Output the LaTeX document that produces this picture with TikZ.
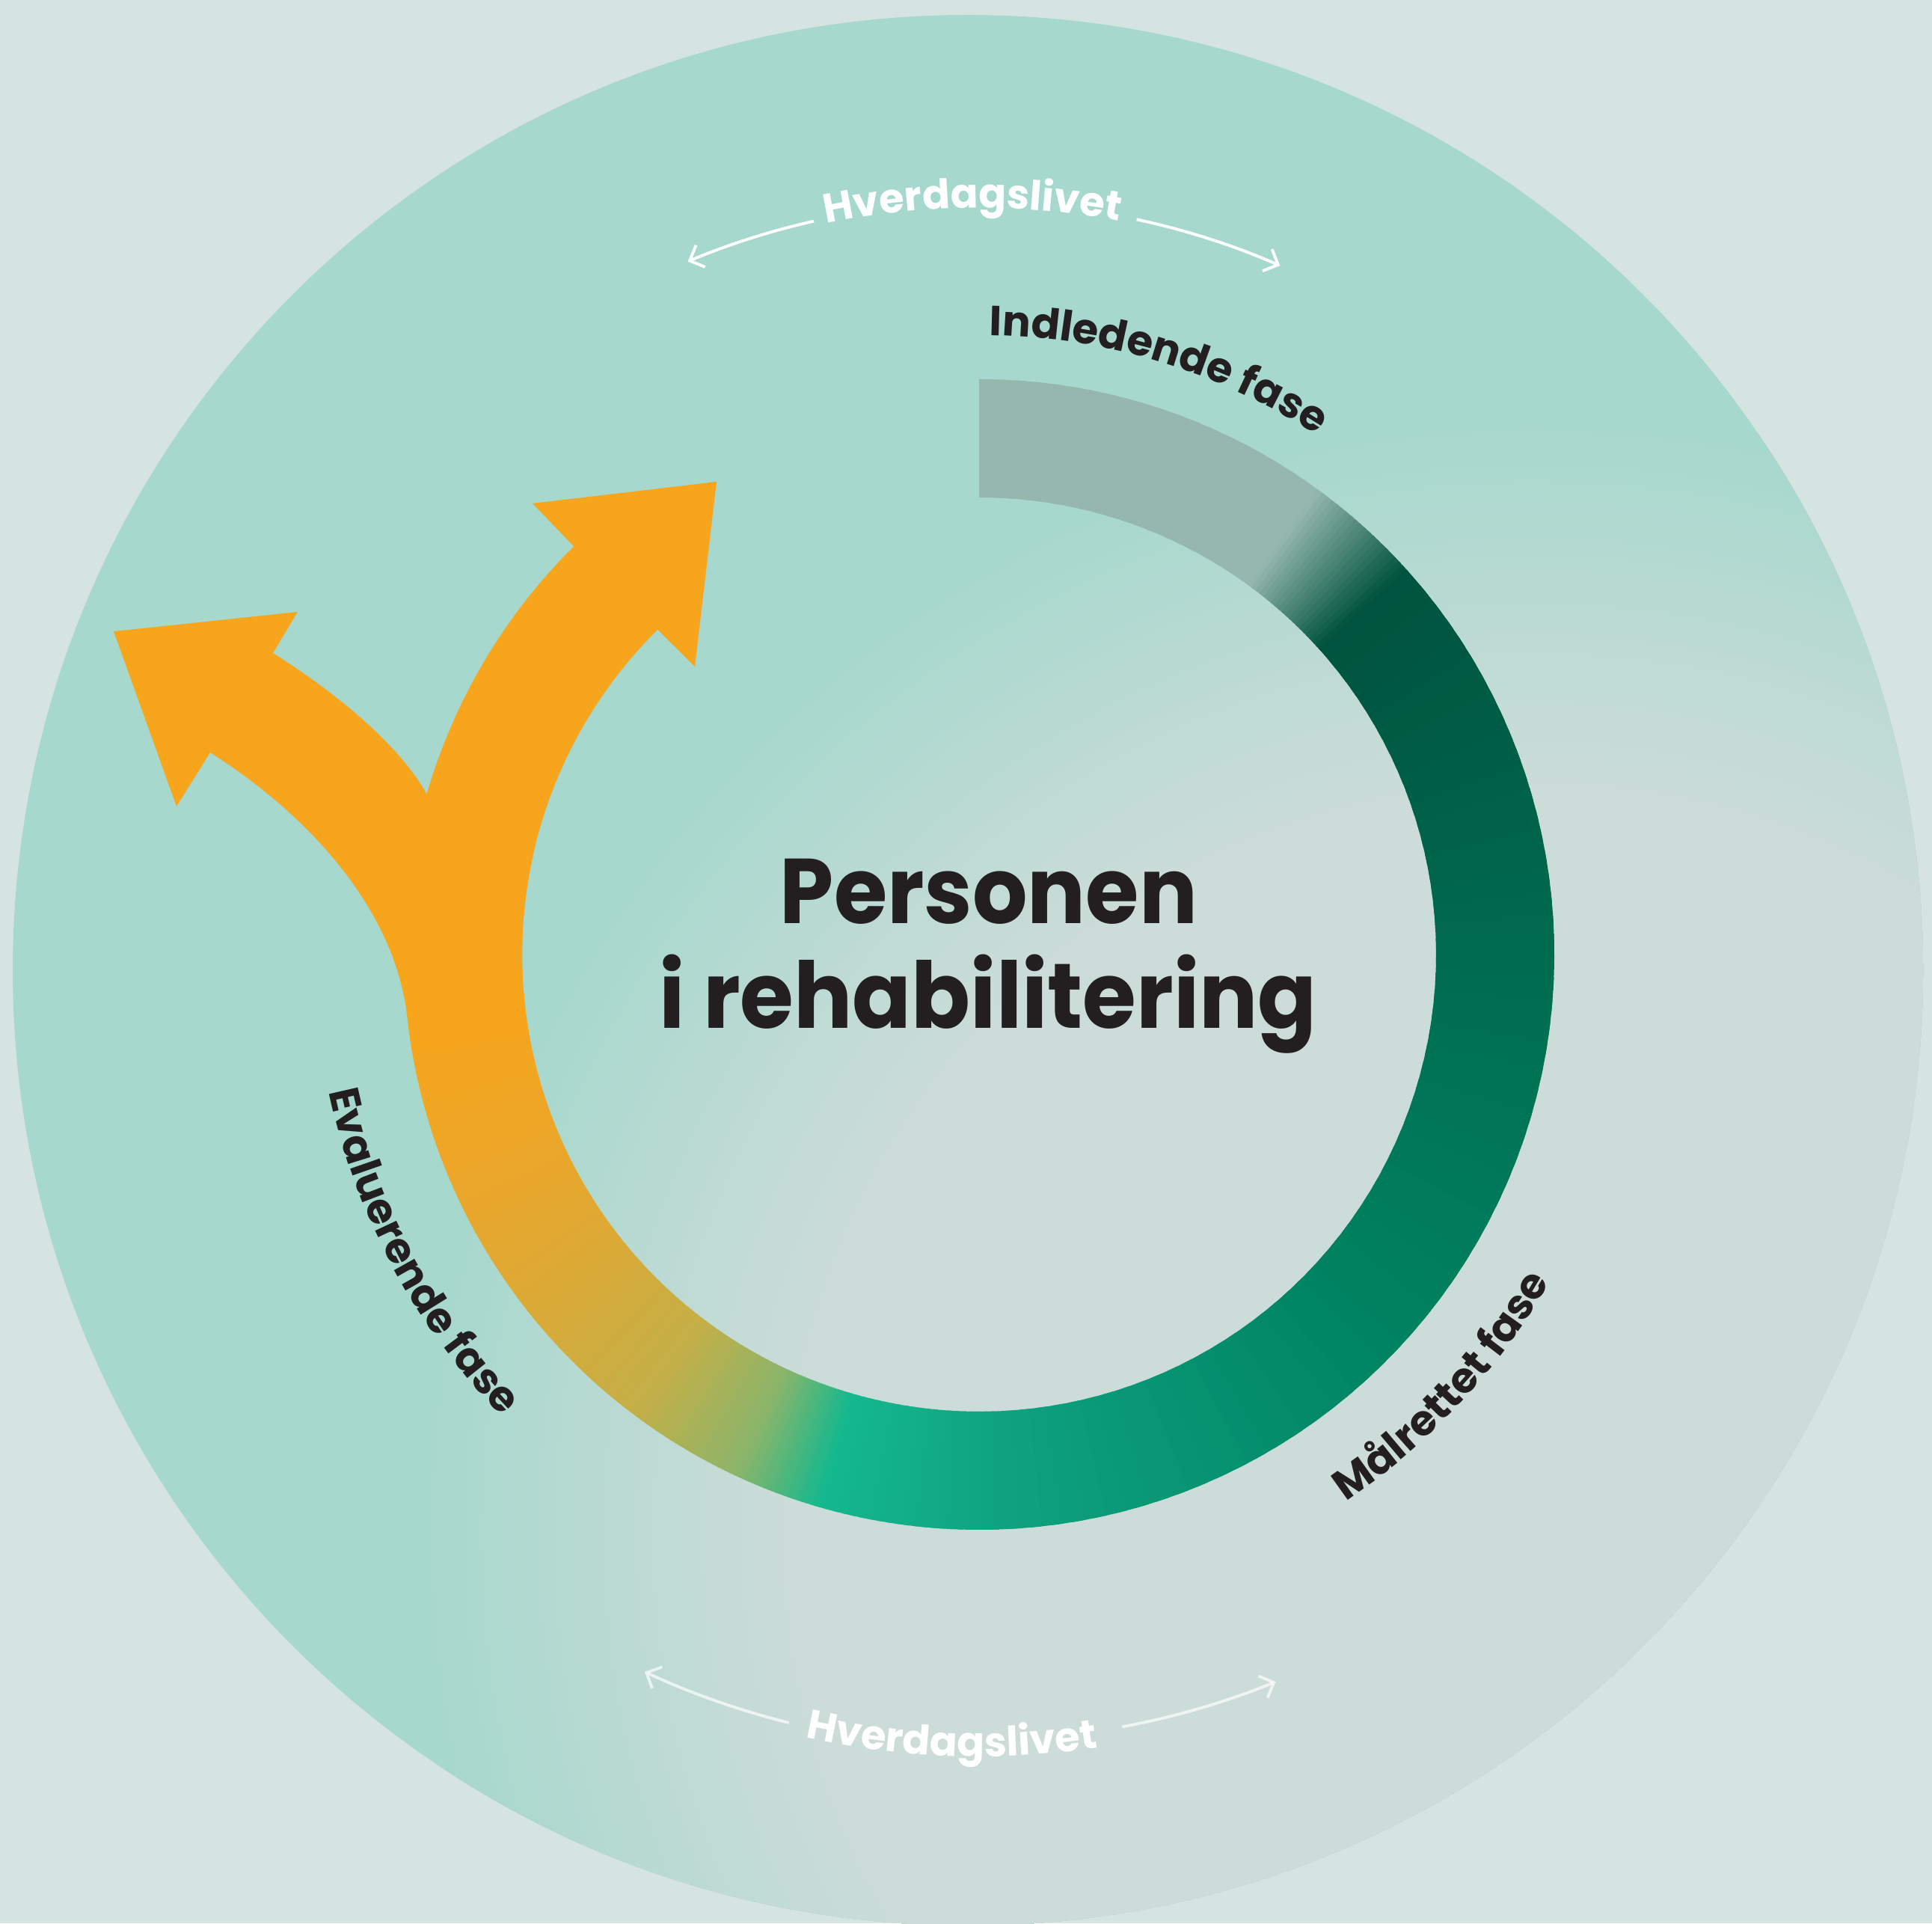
\documentclass[tikz,border=0pt]{standalone}
\usepackage{fontspec}
\setmainfont{Poppins}
\usetikzlibrary{calc,decorations.text,arrows.meta}
\definecolor{bgc}{HTML}{D6E4E1}
\definecolor{bggreen}{HTML}{A6D8CD}
\definecolor{bggray}{HTML}{CCDCD8}
\definecolor{rgray}{HTML}{95B7AE}
\definecolor{rdark}{HTML}{00533E}
\definecolor{rzero}{HTML}{006B4F}
\definecolor{rone}{HTML}{008463}
\definecolor{rtwo}{HTML}{0FA380}
\definecolor{rthree}{HTML}{14B88E}
\definecolor{rfour}{HTML}{8CB56A}
\definecolor{rfive}{HTML}{C4AF47}
\definecolor{rsix}{HTML}{DDA935}
\definecolor{rseven}{HTML}{EEA627}
\definecolor{orng}{HTML}{F7A51C}
\definecolor{txt}{HTML}{231F20}
\tikzset{
  phase/.style={decorate, decoration={text along path, text align=center, text color=txt,
     text={|\bfseries\fontsize{16}{16}\selectfont|#1}}},
  everyday/.style={decorate, decoration={text along path, text align=center, text color=white,
     text={|\bfseries\fontsize{15.5}{16}\selectfont|#1}}},
  lifearrow/.style={draw=white, line width=1.1pt, -{Straight Barb[length=4.5pt,width=9pt]}},
  title/.style={font=\bfseries\fontsize{35}{42}\selectfont, text=txt, anchor=base, inner sep=0pt}
}
\begin{document}
\begin{tikzpicture}
\useasboundingbox (0,0) rectangle (25.83,25.71);
\fill[bgc] (0,0) rectangle (25.83,25.71);
\coordinate (C) at (13.09,12.95);
\coordinate (B) at (12.94,12.74);
\coordinate (G) at (20.5,5.21);
% big circle with soft gradient
\begin{scope}
\clip (B) circle[radius=12.77];
\fill[bggreen] (B) circle[radius=12.77];
\foreach \i in {0,...,50}{
  \pgfmathsetmacro{\rr}{15-0.1*\i}
  \pgfmathtruncatemacro{\pp}{100-2*\i}
  \fill[fill=bggreen!\pp!bggray] (G) circle[radius=\rr];
}
\end{scope}
% ring with angular gradient
\foreach \sa/\sb/\ca/\cb in {90/54/rgray/rgray, 54/42/rgray/rdark, 42/0/rdark/rzero, 0/-45/rzero/rone, -45/-88/rone/rtwo, -88/-106/rtwo/rthree, -106/-115/rthree/rfour, -115/-127/rfour/rfive, -127/-143/rfive/rsix, -143/-159/rsix/rseven, -159/-174/rseven/orng, -174/-192/orng/orng}{
  \foreach \i in {0,...,19}{
    \pgfmathsetmacro{\angS}{\sa+(\sb-\sa)*\i/20}
    \pgfmathsetmacro{\angE}{\sa+(\sb-\sa)*(\i+1.6)/20}
    \pgfmathtruncatemacro{\pp}{98-5*\i}
    \fill[fill=\ca!\pp!\cb] ($(C)+(\angS:7.69)$) arc[start angle=\angS,end angle=\angE,radius=7.69]
      -- ($(C)+(\angE:6.11)$) arc[start angle=\angE,end angle=\angS,radius=6.11] -- cycle;
  }
}
% orange forked arrow
\fill[orng] ($(C)+(190:6.11)$) arc[start angle=190,end angle=134.7,radius=6.11]
  -- (9.29,16.80) -- (9.58,19.27) -- (7.12,18.98)
  -- ($(C)+(134.8:7.69)$) arc[start angle=134.8,end angle=163.8,radius=7.69]
  .. controls (5.30,15.81) and (4.41,16.50) .. (3.65,16.98)
  -- (3.98,17.53) -- (1.52,17.27) -- (2.36,14.93) -- (2.81,15.65)
  .. controls (4.08,14.85) and (5.29,13.58) .. ($(C)+(186.5:7.69)$)
  arc[start angle=186.5,end angle=190,radius=7.69] -- cycle;
% centre title
\node[title] (t1) at (13.22,13.36) {\scalebox{0.94}[1]{Personen}};
\node[title] (t2) at (13.21,11.96) {\scalebox{0.945}[1]{i rehabilitering}};
% phase labels
\path[phase={Indledende fase}] ($(C)+(98:8.28)$) arc[start angle=98,end angle=48,radius=8.28];
\path[phase={Målrettet fase}] ($(C)+(-68:8.80)$) arc[start angle=-68,end angle=-18,radius=8.80];
\path[phase={Evaluerende fase}] ($(C)+(183:8.88)$) arc[start angle=183,end angle=233,radius=8.88];
% everyday life labels
\path[everyday={Hverdagslivet}] ($(C)+(115.5:9.98)$) arc[start angle=115.5,end angle=65.5,radius=9.98];
\path[everyday={Hverdagslivet}] ($(C)+(243:10.72)$) arc[start angle=243,end angle=293,radius=10.72];
% everyday arrows
\draw[lifearrow] ($(C)+(102.7:10.05)$) arc[start angle=102.7,end angle=112.8,radius=10.05];
\draw[lifearrow] ($(C)+(77.9:10.05)$) arc[start angle=77.9,end angle=66.4,radius=10.05];
\draw[lifearrow, draw opacity=0.7] ($(C)+(256.1:10.58)$) arc[start angle=256.1,end angle=245,radius=10.58];
\draw[lifearrow, draw opacity=0.7] ($(C)+(280.5:10.5)$) arc[start angle=280.5,end angle=292.2,radius=10.5];
\end{tikzpicture}
\end{document}
